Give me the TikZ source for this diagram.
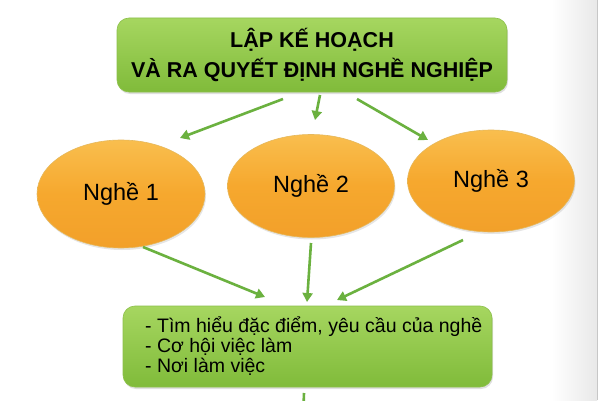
\documentclass[tikz,border=0pt]{standalone}
\usepackage{fontspec}
\setmainfont{Liberation Sans}
\usetikzlibrary{arrows.meta,shadows,calc,shapes.geometric}
\definecolor{boxtop}{HTML}{A6D660}
\definecolor{boxbot}{HTML}{80BB3A}
\definecolor{boxline}{HTML}{8CC04A}
\definecolor{ortop}{HTML}{F9BE4E}
\definecolor{ormid}{HTML}{F6A82E}
\definecolor{orbot}{HTML}{F2A02A}
\definecolor{orline}{HTML}{E6B85C}
\definecolor{arr}{HTML}{6BB13F}
\tikzset{
  greenbox/.style={rounded corners=12pt, top color=boxtop, bottom color=boxbot, draw=boxline, line width=0.6pt,
    drop shadow={opacity=0.25, shadow xshift=1pt, shadow yshift=-2pt}},
  jobell/.style={ellipse, top color=ortop, bottom color=orbot, middle color=ormid, draw=orline, line width=0.6pt,
    drop shadow={opacity=0.2, shadow xshift=1pt, shadow yshift=-2pt}, inner sep=0pt, font=\fontsize{23.5}{26}\selectfont},
  link/.style={draw=arr, line width=2.6pt, -{Triangle[length=9pt,width=10pt]}},
}
\begin{document}
\begin{tikzpicture}[x=1pt,y=1pt]
\useasboundingbox (0,0) rectangle (600,400);
\clip (0,0) rectangle (600,400);
\fill[white] (0,0) rectangle (600,400);
\shade[left color=white, right color=black!9] (552,0) rectangle (597,400);
\draw[black!22, line width=0.8pt] (597.5,0) -- (597.5,400);
% top box
\node[greenbox, minimum width=390pt, minimum height=74pt, align=center,
  font=\fontsize{21.5}{30}\selectfont\bfseries] (top) at (312,345)
  {LẬP KẾ HOẠCH\\VÀ RA QUYẾT ĐỊNH NGHỀ NGHIỆP};
% ellipses
\node[jobell, minimum width=168pt, minimum height=108pt] (n1) at (121,206) {Nghề 1};
\node[jobell, minimum width=167pt, minimum height=103pt] (n2) at (311,214) {Nghề 2};
\node[jobell, minimum width=167pt, minimum height=102pt] (n3) at (491,219) {Nghề 3};
% bottom box
\node[greenbox, minimum width=369pt, minimum height=81pt] (bot) at (307.5,53.5) {};
\node[anchor=west, align=left, inner sep=0pt, font=\fontsize{19.5}{20}\selectfont] (bottxt) at (145,53.5)
  {- Tìm hiểu đặc điểm, yêu cầu của nghề\\- Cơ hội việc làm\\- Nơi làm việc};
% arrow end points
\coordinate (a1s) at (283,301); \coordinate (a1e) at (180,262);
\coordinate (a2s) at (320,305); \coordinate (a2e) at (315,280);
\coordinate (a3s) at (357,301); \coordinate (a3e) at (428,260);
\coordinate (b1s) at (143,153); \coordinate (b1e) at (265,103);
\coordinate (b2s) at (311,157); \coordinate (b2e) at (307,98);
\coordinate (b3s) at (463,160); \coordinate (b3e) at (337,100);
\coordinate (c1s) at (304,7); \coordinate (c1e) at (303.5,-6);
\draw[link] (a1s) -- (a1e);
\draw[link] (a2s) -- (a2e);
\draw[link] (a3s) -- (a3e);
\draw[link] (b1s) -- (b1e);
\draw[link] (b2s) -- (b2e);
\draw[link] (b3s) -- (b3e);
\draw[draw=arr, line width=2.6pt] (c1s) -- (c1e);
\end{tikzpicture}
\end{document}
